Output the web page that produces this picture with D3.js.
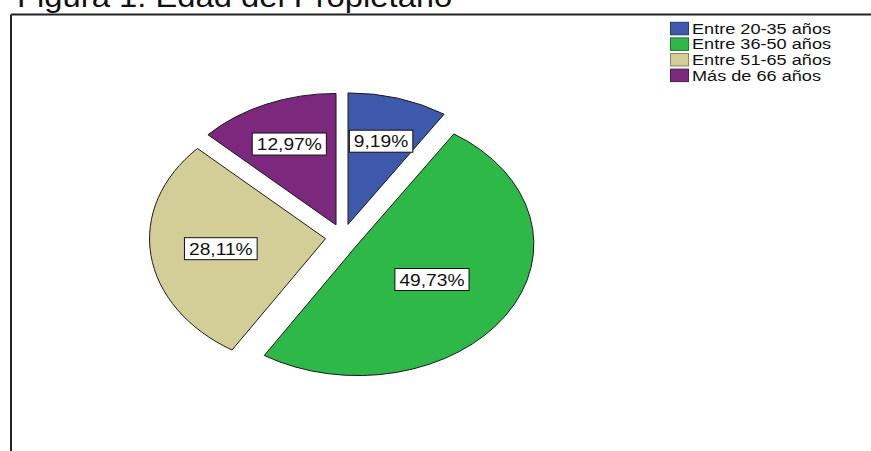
<!DOCTYPE html>
<html>
<head>
<meta charset="utf-8">
<script src="https://cdn.jsdelivr.net/npm/d3@7/dist/d3.min.js"></script>
<style>
  html, body { margin: 0; padding: 0; background: #fff; }
  svg { display: block; }
  text { font-family: "Liberation Sans", Arial, sans-serif; fill: #111; }
</style>
</head>
<body>
<svg id="chart" width="871" height="451"></svg>
<script>
// Edad del propietario: distribución por grupo de edad
const categories = ["Entre 20-35 años", "Entre 36-50 años", "Entre 51-65 años", "Más de 66 años"];
const percentages = [9.19, 49.73, 28.11, 12.97];
const colors = ["#3E58AC", "#2EB848", "#D3CE97", "#7C287D"];
const titleText = "Figura 1. Edad del Propietario";

const W = 871, H = 451;
const svg = d3.select("#chart");
const TEXT_SX = 1.13;                 // glyphs are drawn slightly widened
const fmt = v => d3.format(".2f")(v).replace(".", ",") + "%";

// title (sits partly above the top edge of the page)
svg.append("text")
  .attr("transform", `translate(17,7) scale(${TEXT_SX},1)`)
  .style("font-size", "29px")
  .text(titleText);

// chart frame: top and left rules
svg.append("line").attr("x1", 11).attr("x2", W).attr("y1", 14.5).attr("y2", 14.5)
  .attr("stroke", "#222").attr("stroke-width", 2);
svg.append("line").attr("x1", 11).attr("x2", 11).attr("y1", 14.5).attr("y2", H)
  .attr("stroke", "#222").attr("stroke-width", 2);

// pie geometry: elliptical pie, every slice pulled out along its bisector
const cx = 343, cy = 237;
const R = 131.5, sx = 176 / 131.5;
const explode = 0.1 * R;
const labelR = [0.66, 0.5, 0.6, 0.67];

const data = categories.map((c, i) => ({ cat: c, value: percentages[i], color: colors[i], i }));
const pie = d3.pie().value(d => d.value).sort(null).startAngle(0).endAngle(2 * Math.PI);
const arcs = pie(data);
const arc = d3.arc().innerRadius(0).outerRadius(R);

const pieG = svg.append("g").attr("transform", `translate(${cx},${cy}) scale(${sx},1)`);

const mid = a => (a.startAngle + a.endAngle) / 2;
const off = a => [explode * Math.sin(mid(a)), -explode * Math.cos(mid(a))];

pieG.selectAll("path.slice")
  .data(arcs)
  .join("path")
  .attr("class", "slice")
  .attr("d", arc)
  .attr("transform", a => { const [ox, oy] = off(a); return `translate(${ox},${oy})`; })
  .attr("fill", a => a.data.color)
  .attr("stroke", "#1a1a1a")
  .attr("stroke-width", 1)
  .attr("vector-effect", "non-scaling-stroke");

// value labels in white boxes
const labG = svg.append("g");
arcs.forEach(a => {
  const [ox, oy] = off(a);
  const r = labelR[a.data.i] * R;
  const lx = cx + sx * (ox + r * Math.sin(mid(a)));
  const ly = cy + (oy - r * Math.cos(mid(a)));
  const g = labG.append("g").attr("transform", `translate(${lx},${ly})`);
  const rect = g.append("rect").attr("fill", "#fff").attr("stroke", "#111").attr("stroke-width", 1);
  const t = g.append("text")
    .attr("transform", `scale(${TEXT_SX},1)`)
    .attr("text-anchor", "middle")
    .attr("dy", "0.36em")
    .style("font-size", "17px")
    .text(fmt(a.data.value));
  const bw = t.node().getBBox().width * TEXT_SX + 9;
  const bh = 22;
  rect.attr("x", -bw / 2).attr("y", -bh / 2).attr("width", bw).attr("height", bh);
});

// legend
const LEG_SX = 1.21;
const lg = svg.append("g").attr("transform", "translate(670,28.3)");
const rows = lg.selectAll("g.row").data(data).join("g")
  .attr("class", "row")
  .attr("transform", (d, i) => `translate(0,${i * 15.6})`);
rows.append("rect")
  .attr("x", 0.5).attr("y", -6).attr("width", 18).attr("height", 12.5)
  .attr("fill", d => d.color)
  .attr("stroke", d => d3.color(d.color).darker(1.2))
  .attr("stroke-width", 1);
rows.append("text")
  .attr("transform", `translate(22,0) scale(${LEG_SX},1)`)
  .attr("dy", "0.36em")
  .style("font-size", "15px")
  .text(d => d.cat);
</script>
</body>
</html>
